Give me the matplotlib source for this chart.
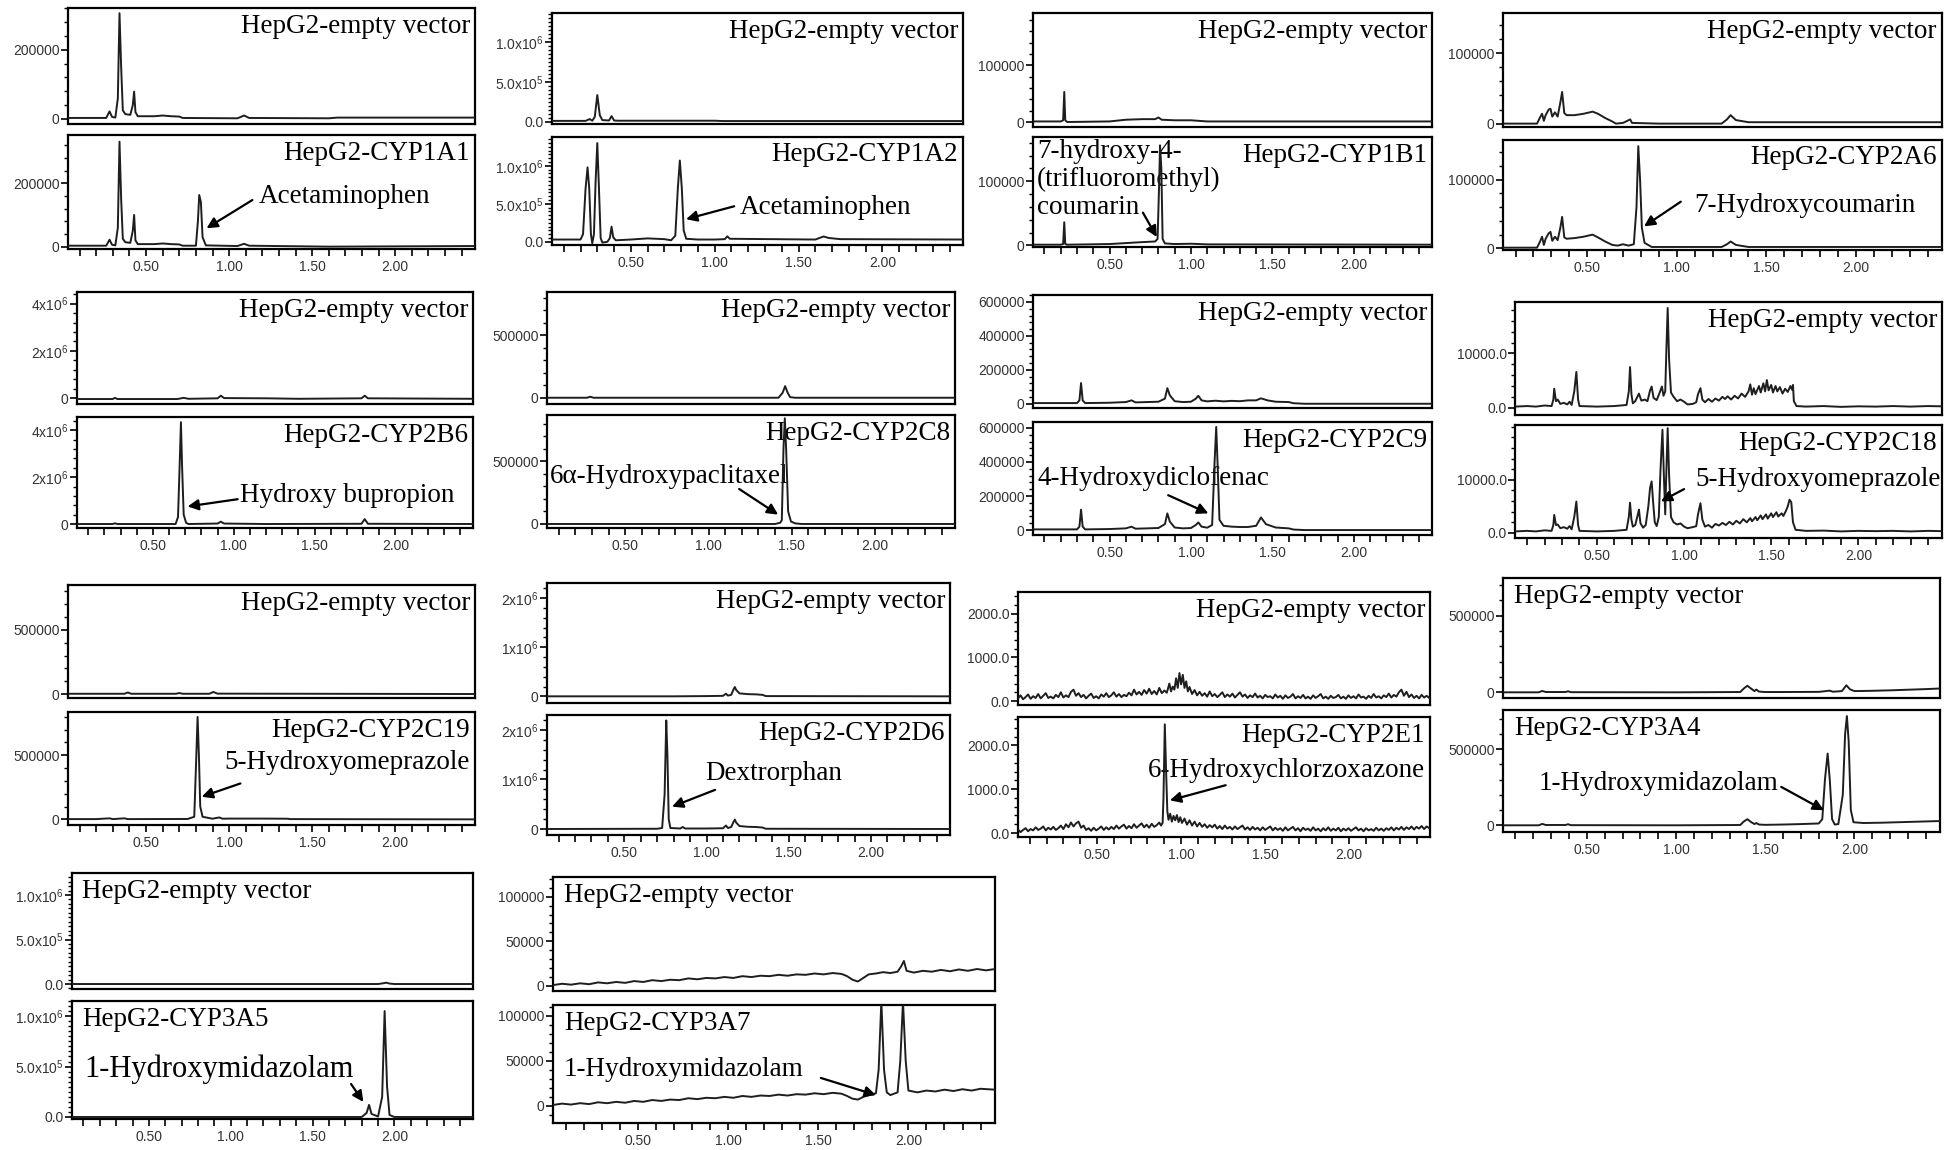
import matplotlib
matplotlib.use('Agg')
import matplotlib.pyplot as plt
from matplotlib.ticker import AutoMinorLocator, MultipleLocator

plt.rcParams['mathtext.fontset'] = 'custom'
plt.rcParams['mathtext.rm'] = 'Liberation Sans'
plt.rcParams['mathtext.default'] = 'regular'

# ---- chromatogram traces, (retention time, intensity) ----
ev_1a1 = [(0.03,3000),(0.26,3000),(0.28,22000),(0.295,6000),(0.315,4000),(0.33,60000),(0.34,306000),(0.35,150000),(0.36,25000),(0.375,14000),(0.405,12000),(0.42,40000),(0.428,79000),(0.436,20000),(0.45,8000),(0.55,8000),(0.6,10000),(0.65,8000),(0.7,7000),(0.72,3000),(1.05,2000),(1.09,10000),(1.12,3000),(1.6,2000),(1.65,4000),(2.48,4000)]
cyp_1a1 = [(0.03,3000),(0.26,3000),(0.28,22000),(0.295,6000),(0.315,4000),(0.33,60000),(0.34,331000),(0.35,150000),(0.36,25000),(0.375,14000),(0.405,12000),(0.42,50000),(0.428,100000),(0.436,20000),(0.45,8000),(0.55,8000),(0.6,10000),(0.65,8000),(0.7,7000),(0.72,3000),(0.80,3000),(0.812,80000),(0.82,163000),(0.83,140000),(0.84,30000),(0.86,4000),(1.05,2000),(1.09,9000),(1.12,3000),(1.6,0),(2.48,2000)]

ev_1a2 = [(0.03,10000),(0.23,10000),(0.255,33000),(0.27,12000),(0.285,60000),(0.30,333000),(0.315,80000),(0.33,20000),(0.37,15000),(0.385,70000),(0.40,15000),(0.42,12000),(1.0,12000),(1.05,8000),(2.48,8000)]
cyp_1a2 = [(0.03,30000),(0.2,30000),(0.215,100000),(0.23,700000),(0.242,980000),(0.252,700000),(0.262,100000),(0.27,-20000),(0.28,100000),(0.29,800000),(0.30,1300000),(0.31,700000),(0.32,50000),(0.33,-10000),(0.36,0),(0.375,50000),(0.385,200000),(0.395,60000),(0.41,20000),(0.5,30000),(0.6,45000),(0.7,35000),(0.74,20000),(0.765,80000),(0.78,700000),(0.792,1070000),(0.804,700000),(0.815,150000),(0.83,40000),(0.9,30000),(1.0,30000),(1.06,35000),(1.075,72000),(1.09,40000),(1.6,30000),(1.63,55000),(1.65,70000),(1.68,50000),(1.75,35000),(2.48,30000)]

ev_1b1 = [(0.03,1000),(0.2,1000),(0.215,3000),(0.222,53000),(0.228,3000),(0.24,0),(0.5,1000),(0.6,4000),(0.7,5000),(0.78,5000),(0.8,8000),(0.82,4000),(0.9,3000),(1.0,3000),(1.1,1000),(2.48,1000)]
cyp_1b1 = [(0.03,1000),(0.2,1000),(0.215,2000),(0.222,36000),(0.228,2000),(0.24,1000),(0.5,2000),(0.7,5000),(0.78,6000),(0.795,10000),(0.805,100000),(0.81,156000),(0.818,120000),(0.826,10000),(0.84,3000),(0.9,2000),(1.0,2500),(1.1,1500),(2.48,1000)]

ev_2a6 = [(0.03,0),(0.22,0),(0.235,8000),(0.248,14000),(0.258,4000),(0.268,12000),(0.285,20000),(0.295,21000),(0.305,10000),(0.32,16000),(0.335,10000),(0.35,30000),(0.36,45000),(0.372,15000),(0.385,12000),(0.43,12000),(0.48,14000),(0.53,17000),(0.56,14000),(0.6,8000),(0.64,3000),(0.66,0),(0.7,1000),(0.74,6000),(0.75,1000),(0.9,0),(1.25,0),(1.28,6000),(1.30,12000),(1.33,5000),(1.4,2000),(2.48,2000)]
cyp_2a6 = [(0.03,1000),(0.22,1000),(0.235,9000),(0.248,17000),(0.258,5000),(0.268,14000),(0.285,22000),(0.295,24000),(0.305,11000),(0.32,17000),(0.335,12000),(0.35,30000),(0.36,46000),(0.372,16000),(0.385,14000),(0.43,15000),(0.48,17000),(0.53,20000),(0.56,16000),(0.6,10000),(0.64,5000),(0.67,4000),(0.7,6000),(0.73,4000),(0.76,6000),(0.775,60000),(0.785,149000),(0.795,100000),(0.805,30000),(0.82,8000),(0.86,2000),(1.25,2000),(1.28,6000),(1.30,10000),(1.33,5000),(1.4,2000),(2.48,2000)]

ev_2b6 = [(0.03,-30000),(0.25,-30000),(0.265,20000),(0.28,-30000),(0.65,-30000),(0.69,20000),(0.72,-20000),(0.9,0),(0.92,110000),(0.94,10000),(1.2,0),(1.4,-20000),(1.79,0),(1.81,110000),(1.83,0),(2.48,-20000)]
cyp_2b6 = [(0.03,0),(0.25,0),(0.265,30000),(0.28,0),(0.64,0),(0.655,300000),(0.665,2500000),(0.673,4350000),(0.68,2500000),(0.69,400000),(0.705,50000),(0.72,0),(0.9,20000),(0.92,100000),(0.94,20000),(1.2,0),(1.79,10000),(1.81,210000),(1.83,10000),(2.48,0)]

ev_2c8 = [(0.03,0),(0.27,0),(0.29,8000),(0.31,0),(1.42,0),(1.445,40000),(1.46,93000),(1.475,40000),(1.49,5000),(1.52,0),(2.48,0)]
cyp_2c8 = [(0.03,0),(1.40,0),(1.43,10000),(1.44,30000),(1.45,600000),(1.458,846000),(1.466,600000),(1.478,100000),(1.495,20000),(1.52,5000),(1.56,0),(2.48,0)]

ev_2c9 = [(0.03,4000),(0.3,4000),(0.315,20000),(0.325,122000),(0.335,20000),(0.35,4000),(0.5,6000),(0.6,10000),(0.635,20000),(0.66,8000),(0.8,12000),(0.84,30000),(0.855,92000),(0.87,50000),(0.9,15000),(0.95,10000),(1.0,12000),(1.03,30000),(1.045,47000),(1.065,20000),(1.1,14000),(1.15,18000),(1.2,14000),(1.25,17000),(1.3,15000),(1.35,20000),(1.4,20000),(1.43,32000),(1.47,20000),(1.52,12000),(1.6,10000),(1.63,3000),(1.7,0),(2.48,0)]
cyp_2c9 = [(0.03,4000),(0.3,4000),(0.315,20000),(0.325,120000),(0.335,20000),(0.35,4000),(0.5,6000),(0.6,10000),(0.635,20000),(0.66,8000),(0.8,12000),(0.84,35000),(0.855,98000),(0.87,50000),(0.9,15000),(0.95,10000),(1.0,12000),(1.03,30000),(1.045,45000),(1.065,20000),(1.1,14000),(1.13,30000),(1.145,400000),(1.155,606000),(1.163,400000),(1.175,60000),(1.2,25000),(1.25,20000),(1.3,18000),(1.35,18000),(1.4,25000),(1.43,74000),(1.46,35000),(1.52,15000),(1.6,10000),(1.63,3000),(1.7,0),(2.48,0)]

ev_2c18 = [(0.03,200),(0.1,300),(0.15,200),(0.2,400),(0.24,300),(0.25,1500),(0.255,3500),(0.265,1200),(0.275,1500),(0.29,700),(0.31,900),(0.33,600),(0.343,1100),(0.355,500),(0.37,3000),(0.382,6600),(0.392,1500),(0.40,300),(0.5,200),(0.6,300),(0.67,500),(0.683,3000),(0.69,7500),(0.698,2500),(0.706,800),(0.72,1200),(0.741,2600),(0.755,1300),(0.775,1500),(0.79,1200),(0.805,3200),(0.814,3900),(0.825,1800),(0.843,1400),(0.858,2600),(0.873,3900),(0.882,2200),(0.892,3000),(0.898,10000),(0.906,18400),(0.914,9000),(0.925,2800),(0.94,2000),(0.96,1200),(0.98,1500),(1.0,1100),(1.02,600),(1.05,700),(1.07,1000),(1.08,2500),(1.094,3600),(1.105,1500),(1.12,1000),(1.14,1600),(1.16,1100),(1.18,1700),(1.2,1300),(1.22,2000),(1.235,1600),(1.25,2100),(1.27,1500),(1.29,2200),(1.31,1700),(1.33,2600),(1.35,2000),(1.37,3000),(1.38,4300),(1.39,2400),(1.40,3600),(1.41,2500),(1.43,4000),(1.44,2800),(1.455,4500),(1.465,3000),(1.475,5100),(1.485,3200),(1.5,4200),(1.51,2800),(1.525,4000),(1.535,3000),(1.55,3800),(1.565,2600),(1.58,3500),(1.595,2900),(1.61,4000),(1.62,3300),(1.625,4200),(1.63,1200),(1.645,300),(1.7,200),(1.8,300),(1.9,150),(2.0,250),(2.1,200),(2.2,300),(2.3,200),(2.4,300),(2.48,250)]
cyp_2c18 = [(0.03,300),(0.1,400),(0.15,300),(0.2,500),(0.24,400),(0.25,1500),(0.255,3400),(0.265,1500),(0.275,1600),(0.29,900),(0.31,1100),(0.33,800),(0.343,1300),(0.355,700),(0.37,3000),(0.382,5900),(0.392,1500),(0.40,400),(0.5,300),(0.6,400),(0.67,600),(0.683,3000),(0.69,5700),(0.698,2500),(0.706,1200),(0.72,1500),(0.735,3500),(0.741,4400),(0.75,1800),(0.765,1000),(0.78,1500),(0.795,5000),(0.805,8500),(0.814,9700),(0.822,6000),(0.832,2000),(0.843,1300),(0.855,3000),(0.865,12000),(0.876,19400),(0.885,10000),(0.892,3500),(0.897,10000),(0.906,19700),(0.914,11000),(0.925,3000),(0.94,2000),(0.96,1600),(0.98,1800),(1.0,1200),(1.02,900),(1.05,1100),(1.07,1300),(1.08,3500),(1.094,5600),(1.105,2500),(1.12,1200),(1.14,1500),(1.16,1000),(1.18,1700),(1.2,1400),(1.22,1900),(1.24,1500),(1.26,2100),(1.28,1600),(1.3,2300),(1.32,1800),(1.34,2600),(1.36,2000),(1.38,2800),(1.39,2200),(1.41,3000),(1.42,2400),(1.44,3300),(1.45,2600),(1.47,3500),(1.48,2700),(1.5,3700),(1.51,3000),(1.53,3900),(1.54,3100),(1.56,3700),(1.57,3200),(1.585,4200),(1.595,5000),(1.605,6250),(1.615,5800),(1.625,2000),(1.64,600),(1.7,400),(1.8,450),(1.9,300),(2.0,400),(2.1,350),(2.2,400),(2.3,300),(2.4,400),(2.48,350)]

ev_2c19 = [(0.03,2000),(0.37,2000),(0.39,12000),(0.41,2000),(0.68,2000),(0.70,8000),(0.72,2000),(0.88,2000),(0.905,16000),(0.93,3000),(1.5,2000),(2.48,0)]
cyp_2c19 = [(0.03,2000),(0.2,2000),(0.28,8000),(0.3,2000),(0.37,8000),(0.39,2000),(0.75,3000),(0.79,20000),(0.80,400000),(0.81,798000),(0.818,500000),(0.826,100000),(0.84,20000),(0.9,5000),(0.94,15000),(0.96,5000),(1.0,6000),(1.2,6000),(1.35,5000),(1.37,2000),(2.48,0)]

ev_2d6 = [(0.03,0),(0.8,0),(1.0,5000),(1.1,10000),(1.118,54000),(1.13,15000),(1.15,30000),(1.165,150000),(1.172,190000),(1.18,130000),(1.2,60000),(1.25,45000),(1.3,40000),(1.34,30000),(1.36,5000),(2.48,0)]
cyp_2d6 = [(0.03,0),(0.7,5000),(0.73,20000),(0.745,700000),(0.755,2190000),(0.762,1500000),(0.77,200000),(0.78,20000),(0.84,10000),(0.855,40000),(0.87,10000),(1.0,10000),(1.1,15000),(1.118,70000),(1.13,20000),(1.15,40000),(1.165,150000),(1.172,190000),(1.18,130000),(1.2,60000),(1.25,45000),(1.3,40000),(1.34,30000),(1.36,5000),(2.48,0)]

ev_2e1 = [(0.03,60),(0.045,130),(0.06,40),(0.075,90),(0.09,150),(0.105,50),(0.12,110),(0.135,70),(0.15,160),(0.165,60),(0.18,120),(0.195,180),(0.21,70),(0.225,100),(0.24,60),(0.255,140),(0.27,90),(0.285,200),(0.30,80),(0.315,130),(0.33,90),(0.345,210),(0.36,260),(0.375,120),(0.39,180),(0.405,90),(0.42,140),(0.435,60),(0.45,120),(0.465,170),(0.48,70),(0.495,110),(0.51,60),(0.525,150),(0.54,100),(0.555,180),(0.57,90),(0.585,130),(0.60,200),(0.615,100),(0.63,160),(0.645,90),(0.66,140),(0.675,110),(0.69,190),(0.705,130),(0.72,260),(0.735,150),(0.75,210),(0.765,140),(0.78,250),(0.795,170),(0.81,280),(0.825,160),(0.84,230),(0.855,150),(0.87,300),(0.885,180),(0.90,240),(0.915,190),(0.93,400),(0.94,220),(0.95,330),(0.96,260),(0.97,520),(0.98,300),(0.99,640),(1.0,380),(1.01,600),(1.02,300),(1.03,450),(1.04,220),(1.05,320),(1.065,160),(1.08,250),(1.095,130),(1.11,210),(1.125,120),(1.14,180),(1.155,100),(1.17,220),(1.185,110),(1.20,160),(1.215,90),(1.23,140),(1.245,200),(1.26,90),(1.275,150),(1.29,100),(1.305,170),(1.32,80),(1.335,140),(1.35,200),(1.365,100),(1.38,150),(1.395,70),(1.41,130),(1.425,90),(1.44,170),(1.455,80),(1.47,120),(1.485,60),(1.50,140),(1.515,90),(1.53,110),(1.545,60),(1.56,150),(1.575,80),(1.59,120),(1.605,50),(1.62,130),(1.635,70),(1.65,100),(1.665,160),(1.68,60),(1.695,110),(1.71,70),(1.725,140),(1.74,60),(1.755,100),(1.77,50),(1.785,130),(1.80,70),(1.815,110),(1.83,160),(1.845,60),(1.86,100),(1.875,50),(1.89,120),(1.905,70),(1.92,90),(1.935,140),(1.95,60),(1.965,100),(1.98,50),(1.995,130),(2.01,70),(2.025,110),(2.04,60),(2.055,150),(2.07,80),(2.085,100),(2.10,50),(2.115,120),(2.13,70),(2.145,160),(2.16,80),(2.175,110),(2.19,60),(2.205,130),(2.22,90),(2.235,170),(2.25,80),(2.265,140),(2.28,100),(2.295,200),(2.31,260),(2.325,120),(2.34,210),(2.355,90),(2.37,150),(2.385,70),(2.40,120),(2.415,60),(2.43,140),(2.445,80),(2.46,120),(2.475,70)]
cyp_2e1 = [(0.03,80),(0.045,20),(0.06,70),(0.075,110),(0.09,40),(0.105,90),(0.12,60),(0.135,130),(0.15,70),(0.165,100),(0.18,150),(0.195,60),(0.21,120),(0.225,80),(0.24,140),(0.255,70),(0.27,110),(0.285,170),(0.30,90),(0.315,200),(0.33,130),(0.345,240),(0.36,150),(0.375,220),(0.39,260),(0.405,120),(0.42,170),(0.435,70),(0.45,110),(0.465,50),(0.48,120),(0.495,60),(0.51,100),(0.525,150),(0.54,70),(0.555,130),(0.57,80),(0.585,140),(0.60,90),(0.615,170),(0.63,100),(0.645,150),(0.66,190),(0.675,100),(0.69,160),(0.705,110),(0.72,200),(0.735,120),(0.75,170),(0.765,220),(0.78,130),(0.795,190),(0.81,120),(0.825,210),(0.84,140),(0.855,180),(0.87,240),(0.88,170),(0.89,230),(0.895,800),(0.903,2480),(0.91,1500),(0.918,500),(0.925,300),(0.935,440),(0.945,260),(0.955,390),(0.965,290),(0.975,410),(0.985,250),(0.995,360),(1.005,230),(1.02,330),(1.035,190),(1.05,290),(1.065,170),(1.08,260),(1.095,150),(1.11,230),(1.125,140),(1.14,200),(1.155,120),(1.17,180),(1.185,130),(1.20,190),(1.215,100),(1.23,160),(1.245,90),(1.26,170),(1.275,100),(1.29,140),(1.305,80),(1.32,150),(1.335,90),(1.35,130),(1.365,170),(1.38,80),(1.395,130),(1.41,70),(1.425,140),(1.44,80),(1.455,120),(1.47,60),(1.485,130),(1.50,70),(1.515,110),(1.53,150),(1.545,60),(1.56,120),(1.575,70),(1.59,110),(1.605,50),(1.62,130),(1.635,60),(1.65,100),(1.665,140),(1.68,60),(1.695,110),(1.71,40),(1.725,120),(1.74,70),(1.755,100),(1.77,50),(1.785,130),(1.80,60),(1.815,100),(1.83,40),(1.845,110),(1.86,60),(1.875,130),(1.89,50),(1.905,100),(1.92,60),(1.935,120),(1.95,40),(1.965,100),(1.98,60),(1.995,110),(2.01,50),(2.025,90),(2.04,130),(2.055,60),(2.07,100),(2.085,40),(2.10,110),(2.115,60),(2.13,90),(2.145,50),(2.16,120),(2.175,60),(2.19,100),(2.205,50),(2.22,110),(2.235,70),(2.25,130),(2.265,60),(2.28,120),(2.295,80),(2.31,140),(2.325,70),(2.34,130),(2.355,90),(2.37,150),(2.385,80),(2.40,140),(2.415,100),(2.43,160),(2.445,90),(2.46,150),(2.475,110)]

ev_3a4 = [(0.03,0),(0.23,0),(0.25,9000),(0.27,2000),(0.38,2000),(0.395,7000),(0.41,1000),(1.0,0),(1.36,2000),(1.38,25000),(1.40,43000),(1.42,25000),(1.44,8000),(1.45,18000),(1.465,5000),(1.5,2000),(1.6,2000),(1.8,3000),(1.84,8000),(1.86,11000),(1.88,4000),(1.93,8000),(1.955,46000),(1.975,20000),(2.0,8000),(2.1,10000),(2.2,13000),(2.3,17000),(2.4,21000),(2.48,25000)]
cyp_3a4 = [(0.03,0),(0.23,0),(0.25,9000),(0.27,2000),(0.38,2000),(0.395,7000),(0.41,1000),(1.0,0),(1.36,2000),(1.38,25000),(1.40,40000),(1.42,22000),(1.44,8000),(1.45,15000),(1.465,5000),(1.5,3000),(1.6,5000),(1.7,8000),(1.80,12000),(1.82,40000),(1.835,300000),(1.85,471000),(1.862,300000),(1.875,40000),(1.89,5000),(1.91,8000),(1.935,200000),(1.948,600000),(1.958,717000),(1.968,550000),(1.98,100000),(1.995,20000),(2.05,15000),(2.15,17000),(2.3,22000),(2.48,28000)]

ev_3a5 = [(0.03,0),(1.5,0),(1.9,0),(1.93,8000),(1.95,15000),(1.97,5000),(2.0,0),(2.48,0)]
cyp_3a5 = [(0.03,0),(1.8,0),(1.83,40000),(1.845,120000),(1.86,30000),(1.9,5000),(1.925,200000),(1.94,1050000),(1.955,300000),(1.97,20000),(2.0,0),(2.48,0)]

ev_3a7 = [(0.03,1000),(0.08,2500),(0.13,1500),(0.18,3000),(0.23,2000),(0.28,4000),(0.33,3000),(0.38,4500),(0.43,3500),(0.48,5500),(0.53,4500),(0.58,6500),(0.63,5500),(0.68,7000),(0.73,6500),(0.78,8500),(0.83,7500),(0.88,9000),(0.93,8500),(0.98,10000),(1.03,9000),(1.08,11000),(1.13,10000),(1.18,11500),(1.23,11000),(1.28,12500),(1.33,11500),(1.38,13000),(1.43,12500),(1.48,14000),(1.53,13000),(1.58,14500),(1.63,13500),(1.66,11000),(1.69,7000),(1.72,5000),(1.75,9000),(1.78,13000),(1.82,14000),(1.86,15500),(1.9,14500),(1.94,16000),(1.96,22000),(1.975,28000),(1.99,17000),(2.03,15000),(2.08,17000),(2.13,16000),(2.18,18000),(2.23,16500),(2.28,18500),(2.33,17000),(2.38,19000),(2.43,17500),(2.48,19000)]
cyp_3a7 = [(0.03,1000),(0.08,2500),(0.13,1500),(0.18,3000),(0.23,2000),(0.28,4000),(0.33,3000),(0.38,4500),(0.43,3500),(0.48,5500),(0.53,4500),(0.58,6500),(0.63,5500),(0.68,7000),(0.73,6500),(0.78,8500),(0.83,7500),(0.88,9000),(0.93,8500),(0.98,10000),(1.03,9000),(1.08,11000),(1.13,10000),(1.18,11500),(1.23,11000),(1.28,12500),(1.33,11500),(1.38,13000),(1.43,12500),(1.48,14000),(1.53,13000),(1.58,14500),(1.63,13500),(1.66,11000),(1.69,8000),(1.72,7000),(1.75,10000),(1.78,12000),(1.82,14000),(1.835,40000),(1.85,116000),(1.865,40000),(1.88,15000),(1.9,12000),(1.94,15000),(1.955,50000),(1.97,116000),(1.985,50000),(2.0,17000),(2.05,15000),(2.1,17000),(2.15,16000),(2.2,18000),(2.25,16500),(2.3,18500),(2.35,17000),(2.4,19000),(2.48,18000)]

x_ticks = [0.5, 1.0, 1.5, 2.0]
x_ticklabels = ['0.50', '1.00', '1.50', '2.00']

# ---- layout (pixel boxes on the 1950x1150 canvas: left, top, right, bottom) ----
W, H = 1950, 1150
fig = plt.figure(figsize=(W / 100, H / 100), dpi=100)
fig.patch.set_facecolor('white')

LINE = '#1e1e1e'
SERIF = ['Liberation Serif', 'DejaVu Serif']
TSIZE = 19.5


def panel(box, pts, ylim, yticks, ylabels, title, left_title=False, xlabels=False, nminor=5):
    l, t, r, b = box
    ax = fig.add_axes([l / W, 1 - b / H, (r - l) / W, (b - t) / H])
    xs = [p[0] for p in pts]
    ys = [p[1] for p in pts]
    ax.plot(xs, ys, color=LINE, lw=1.4, zorder=3)
    ax.set_xlim(0.03, 2.48)
    ax.set_ylim(*ylim)
    ax.set_yticks(yticks)
    ax.set_yticklabels(ylabels, fontsize=10, family='Liberation Sans', color='#333333')
    ax.yaxis.set_minor_locator(AutoMinorLocator(nminor))
    if xlabels:
        ax.set_xticks(x_ticks)
        ax.set_xticklabels(x_ticklabels, fontsize=10, family='Liberation Sans', color='#333333')
        ax.xaxis.set_minor_locator(MultipleLocator(0.1))
        ax.tick_params(axis='x', which='both', direction='out', length=5, width=1.2, pad=3)
    else:
        ax.set_xticks([])
    ax.tick_params(axis='y', which='major', direction='out', length=5, width=1.2, pad=1)
    ax.tick_params(axis='y', which='minor', direction='out', length=3, width=1.0)
    for s in ax.spines.values():
        s.set_linewidth(1.6)
    if left_title:
        ax.text(0.025, 0.95, title, transform=ax.transAxes, ha='left', va='top',
                fontsize=TSIZE, family=SERIF, zorder=2)
    else:
        ax.text(0.988, 0.95, title, transform=ax.transAxes, ha='right', va='top',
                fontsize=TSIZE, family=SERIF, zorder=2)
    return ax


def label(ax, text, xy, ha='left', va='center', ls=1.15, size=TSIZE):
    ax.text(xy[0], xy[1], text, ha=ha, va=va, fontsize=size, family=SERIF,
            linespacing=ls, zorder=2)


def arrow(ax, start, end):
    ax.annotate('', xy=end, xytext=start,
                arrowprops=dict(arrowstyle='-|>', color='black', lw=1.6,
                                mutation_scale=16, shrinkA=0, shrinkB=0), zorder=4)


EV = 'HepG2-empty vector'
e6 = ['0.0', '5.0x10$^5$', '1.0x10$^6$']

# row 1
panel((68, 8, 475, 124), ev_1a1, (-14500, 321000), [0, 200000], ['0', '200000'], EV)
a = panel((68, 135, 475, 249), cyp_1a1, (-7400, 352000), [0, 200000], ['0', '200000'], 'HepG2-CYP1A1', xlabels=True)
label(a, 'Acetaminophen', (1.18, 158000))
arrow(a, (1.14, 147000), (0.864, 58000))

panel((552, 13, 963, 124), ev_1a2, (-29000, 1.36e6), [0, 5e5, 1e6], e6, EV, nminor=10)
a = panel((552, 137, 963, 245), cyp_1a2, (-42000, 1.38e6), [0, 5e5, 1e6], e6, 'HepG2-CYP1A2', xlabels=True, nminor=10)
label(a, 'Acetaminophen', (1.147, 447000))
arrow(a, (1.116, 468000), (0.829, 298000))

panel((1033, 13, 1432, 127), ev_1b1, (-8800, 192000), [0, 100000], ['0', '100000'], EV)
a = panel((1033, 137, 1432, 247), cyp_1b1, (-2600, 169000), [0, 100000], ['0', '100000'], 'HepG2-CYP1B1', xlabels=True)
label(a, '7-hydroxy-4-\n(trifluoromethyl)\ncoumarin', (0.055, 166000), va='top')
arrow(a, (0.705, 51000), (0.79, 13000))

panel((1503, 13, 1942, 127), ev_2a6, (-4800, 157000), [0, 100000], ['0', '100000'], EV)
a = panel((1503, 140, 1942, 250), cyp_2a6, (-2400, 158000), [0, 100000], ['0', '100000'], 'HepG2-CYP2A6', xlabels=True)
label(a, '7-Hydroxycoumarin', (1.097, 63000))
arrow(a, (1.022, 68000), (0.817, 32000))

# row 2
e6b = ['0', '2x10$^6$', '4x10$^6$']
panel((77, 292, 473, 404), ev_2b6, (-240000, 4.49e6), [0, 2e6, 4e6], e6b, EV)
a = panel((77, 417, 473, 528), cyp_2b6, (-170000, 4.57e6), [0, 2e6, 4e6], e6b, 'HepG2-CYP2B6', xlabels=True)
label(a, 'Hydroxy bupropion', (1.04, 1.2e6))
arrow(a, (1.024, 1.06e6), (0.714, 750000))

panel((547, 292, 955, 404), ev_2c8, (-50000, 846000), [0, 500000], ['0', '500000'], EV)
a = panel((547, 415, 955, 528), cyp_2c8, (-32000, 872000), [0, 500000], ['0', '500000'], 'HepG2-CYP2C8', xlabels=True)
label(a, '6\u03b1-Hydroxypaclitaxel', (0.045, 380000))
arrow(a, (1.184, 280000), (1.418, 75000))

t9 = [0, 200000, 400000, 600000]
l9 = ['0', '200000', '400000', '600000']
panel((1033, 295, 1432, 408), ev_2c9, (-25000, 641000), t9, l9, EV)
a = panel((1033, 422, 1432, 535), cyp_2c9, (-29000, 635000), t9, l9, 'HepG2-CYP2C9', xlabels=True)
label(a, '4-Hydroxydiclofenac', (0.055, 303000))
arrow(a, (0.86, 205000), (1.107, 98000))

panel((1515, 302, 1942, 415), ev_2c18, (-1350, 19500), [0, 10000], ['0.0', '10000.0'], EV)
a = panel((1515, 425, 1942, 538), cyp_2c18, (-940, 20300), [0, 10000], ['0.0', '10000.0'], 'HepG2-CYP2C18', xlabels=True)
label(a, '5-Hydroxyomeprazole', (2.47, 10000), ha='right')
arrow(a, (1.0, 8250), (0.867, 5940))

# row 3
panel((68, 585, 475, 698), ev_2c19, (-31000, 850000), [0, 500000], ['0', '500000'], EV)
a = panel((68, 712, 475, 825), cyp_2c19, (-44000, 837000), [0, 500000], ['0', '500000'], 'HepG2-CYP2C19', xlabels=True)
label(a, '5-Hydroxyomeprazole', (2.45, 440000), ha='right')
arrow(a, (1.068, 280000), (0.835, 176000))

e6c = ['0', '1x10$^6$', '2x10$^6$']
panel((547, 583, 950, 703), ev_2d6, (-136000, 2.31e6), [0, 1e6, 2e6], e6c, EV)
a = panel((547, 715, 950, 835), cyp_2d6, (-121000, 2.30e6), [0, 1e6, 2e6], e6c, 'HepG2-CYP2D6', xlabels=True)
label(a, 'Dextrorphan', (0.99, 1.12e6))
arrow(a, (1.052, 790000), (0.79, 450000))

t1 = [0, 1000, 2000]
l1 = ['0.0', '1000.0', '2000.0']
panel((1018, 592, 1430, 705), ev_2e1, (-91, 2494), t1, l1, EV)
a = panel((1018, 717, 1430, 837), cyp_2e1, (-91, 2646), t1, l1, 'HepG2-CYP2E1', xlabels=True)
label(a, '6-Hydroxychlorzoxazone', (2.45, 1430), ha='right')
arrow(a, (1.265, 1090), (0.933, 745))

panel((1503, 578, 1940, 698), ev_3a4, (-37000, 746000), [0, 500000], ['0', '500000'], EV, left_title=True)
a = panel((1503, 710, 1940, 832), cyp_3a4, (-44000, 757000), [0, 500000], ['0', '500000'], 'HepG2-CYP3A4', left_title=True, xlabels=True)
label(a, '1-Hydroxymidazolam', (0.232, 274000))
arrow(a, (1.59, 252000), (1.829, 99000))

# row 4
panel((72, 873, 473, 989), ev_3a5, (-56000, 1.247e6), [0, 5e5, 1e6], e6, EV, left_title=True, nminor=10)
a = panel((72, 1001, 473, 1119), cyp_3a5, (-20000, 1.15e6), [0, 5e5, 1e6], e6, 'HepG2-CYP3A5', left_title=True, xlabels=True, nminor=10)
label(a, '1-Hydroxymidazolam', (0.106, 470000), size=22)
arrow(a, (1.735, 327000), (1.81, 149000))

t7 = [0, 50000, 100000]
l7 = ['0', '50000', '100000']
panel((553, 877, 995, 991), ev_3a7, (-5600, 122000), t7, l7, EV, left_title=True)
a = panel((553, 1005, 995, 1123), cyp_3a7, (-19000, 112000), t7, l7, 'HepG2-CYP3A7', left_title=True, xlabels=True)
label(a, '1-Hydroxymidazolam', (0.09, 40500))
arrow(a, (1.515, 31000), (1.82, 12000))

fig.savefig('out.png', dpi=100, facecolor='white')
